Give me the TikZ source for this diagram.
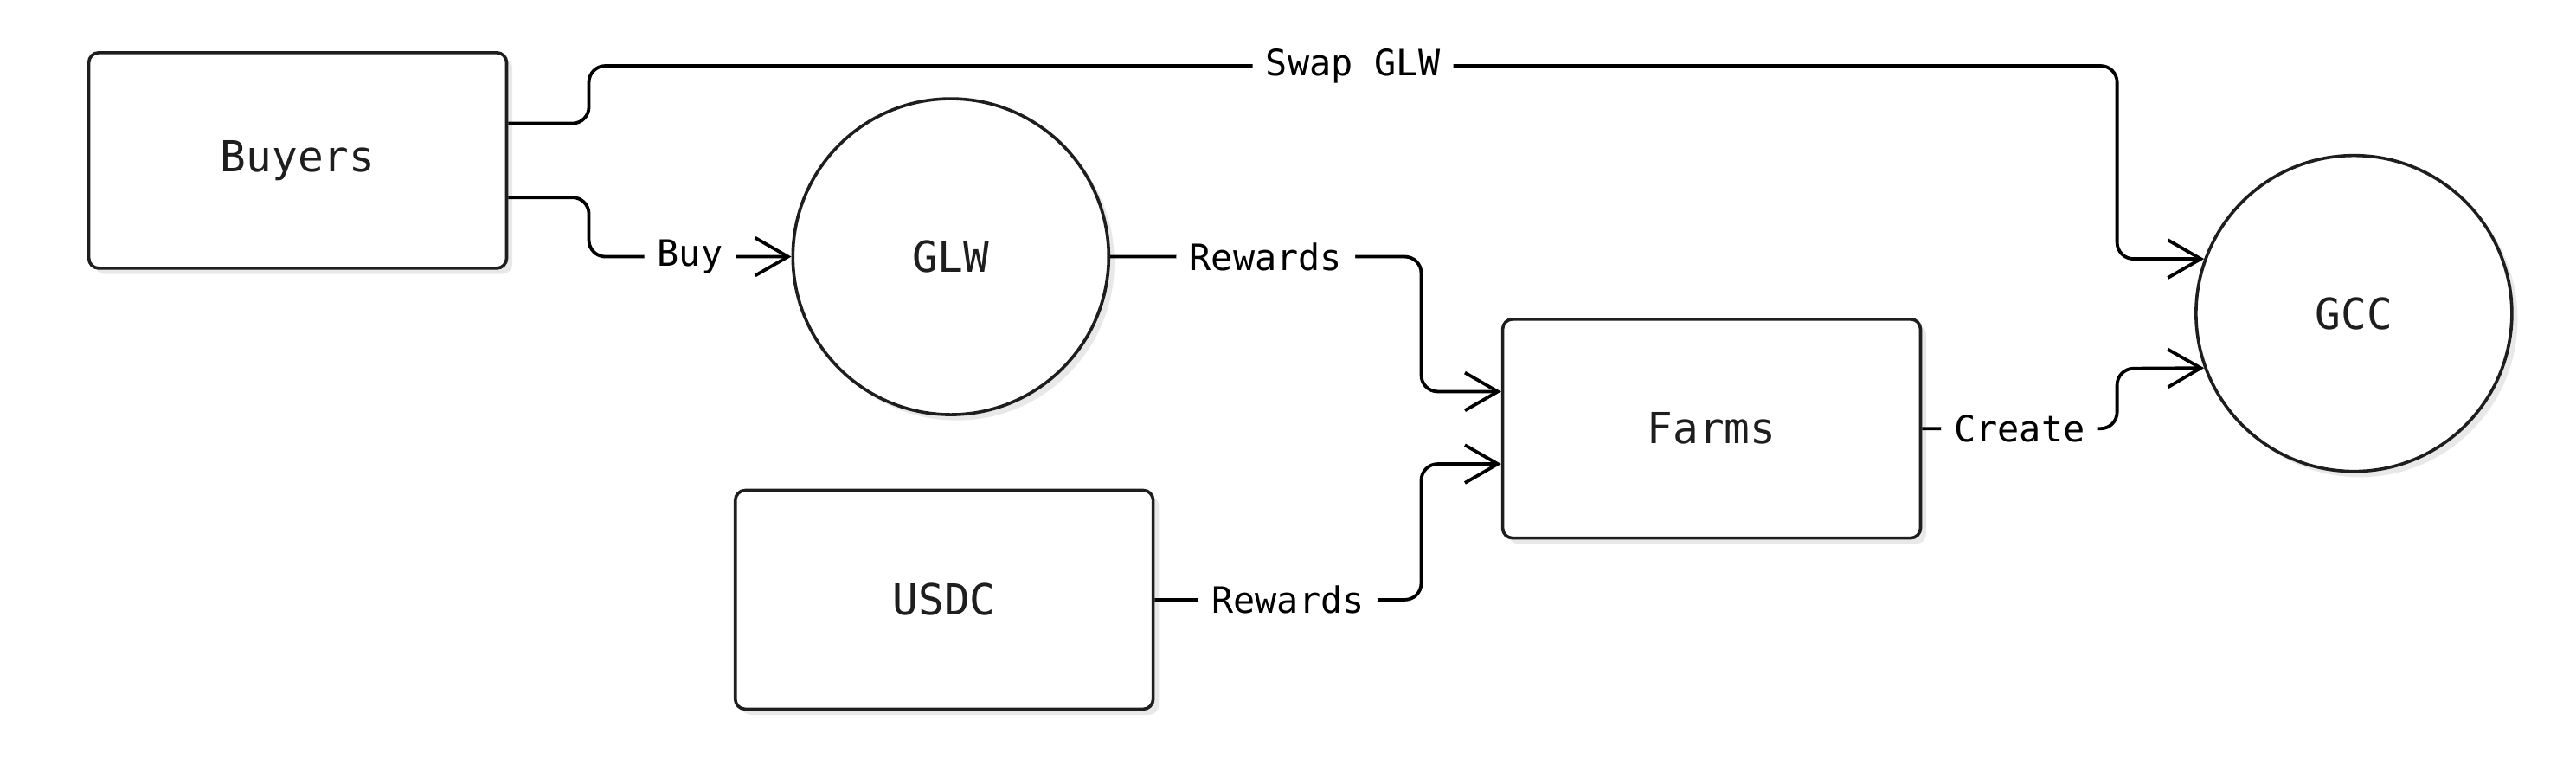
\documentclass[tikz,border=0pt]{standalone}
\usepackage{fontspec}
\newfontfamily\diafont{DejaVu Sans Mono}
\usetikzlibrary{arrows.meta,shadows}
\definecolor{ink}{HTML}{1E1E1E}
\definecolor{shade}{HTML}{E8E8E8}
\begin{document}
\begin{tikzpicture}[x=1pt,y=1pt,
  base/.style={draw=ink, line width=1.9pt, fill=white, text=ink,
    drop shadow={shadow xshift=3.5pt, shadow yshift=-3.5pt, fill=shade, opacity=1},
    font=\diafont\fontsize{26}{30}\selectfont},
  boxnode/.style={base, rectangle, rounded corners=6pt, inner sep=0pt},
  ballnode/.style={base, circle, minimum size=192pt, inner sep=0pt},
  conn/.style={draw=black, line width=2pt, rounded corners=10pt,
    -{Straight Barb[length=20pt,width=23pt,line width=2pt]}},
  lbl/.style={fill=white, text=black, inner xsep=8pt, inner ysep=2pt,
    font=\diafont\fontsize{22}{26}\selectfont}]
\useasboundingbox (0,0) rectangle (1566,-469.2);

\node[boxnode, minimum width=254pt, minimum height=131pt] (buyers) at (181,-97.5) {Buyers};
\node[ballnode] (glw) at (578,-156) {GLW};
\node[boxnode, minimum width=254pt, minimum height=133pt] (usdc) at (574,-364.5) {USDC};
\node[boxnode, minimum width=254pt, minimum height=133pt] (farms) at (1040.5,-260.5) {Farms};
\node[ballnode] (gcc) at (1431,-190.5) {GCC};

\draw[conn] ([yshift=22.5pt]buyers.east) -- (358,-75) -- (358,-40)
  -- node[lbl]{Swap GLW} (1287,-40) |- (gcc.160);
\draw[conn] ([yshift=-22.5pt]buyers.east) -- (358,-120)
  |- node[lbl,pos=0.75]{Buy} (glw.west);
\draw[conn] (glw.east) -| node[lbl,pos=0.25]{Rewards} (864,-238)
  -- ([yshift=22.5pt]farms.west);
\draw[conn] (usdc.east) -| node[lbl,pos=0.25]{Rewards} (864,-282)
  -- ([yshift=-21.5pt]farms.west);
\draw[conn] (farms.east) -| node[lbl,pos=0.25]{Create} (1287,-224)
  -- (gcc.200);
\end{tikzpicture}
\end{document}
